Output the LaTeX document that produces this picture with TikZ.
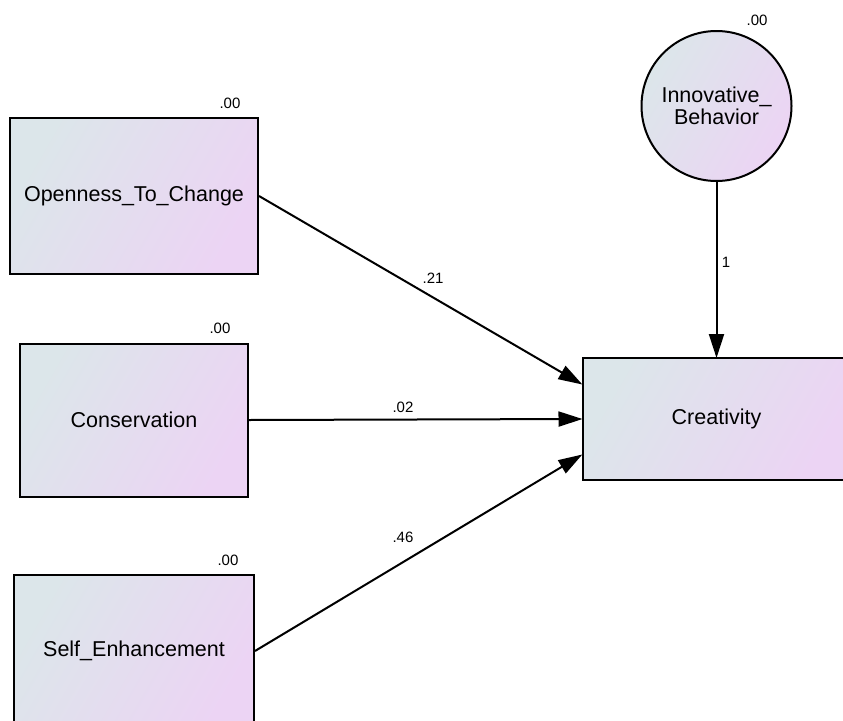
\documentclass[tikz,border=0pt]{standalone}
\usepackage{fontspec}
\setmainfont{Liberation Sans}
\usetikzlibrary{arrows.meta}
\definecolor{gA}{RGB}{220,230,234}
\definecolor{gB}{RGB}{236,212,244}
\tikzset{
  varbox/.style={draw=black, line width=2pt, left color=gA, right color=gB, shading angle=60,
     inner sep=0pt, font=\fontsize{21.5}{24}\selectfont},
  latent/.style={draw=black, line width=2pt, circle, left color=gA, right color=gB, shading angle=60,
     minimum size=150pt, inner sep=0pt, align=center, font=\fontsize{21.5}{22}\selectfont},
  small/.style={font=\fontsize{15}{18}\selectfont, inner sep=0pt},
  path/.style={line width=2pt, -{Triangle[length=24pt,width=15pt]}, shorten >=-1pt}
}
\begin{document}
\begin{tikzpicture}[x=1pt,y=-1pt]
\useasboundingbox (0,0) rectangle (843,720);
\clip (0,0) rectangle (843,720);
\node[varbox, minimum width=248pt, minimum height=156pt] (open) at (134,196) {Openness\_To\_Change};
\node[varbox, minimum width=228pt, minimum height=153pt] (cons) at (134,420) {Conservation};
\node[varbox, minimum width=240pt, minimum height=152pt] (self) at (134,651) {Self\_Enhancement};
\node[varbox, minimum width=268pt, minimum height=122pt] (crea) at (716.5,419) {Creativity};
\node[latent] (innov) at (716.5,106) {Innovative\_\\Behavior};
\node[small] (l1) at (230,103) {.00};
\node[small] (l2) at (220,328) {.00};
\node[small] (l3) at (228,560) {.00};
\node[small] (l4) at (757,20) {.00};
\draw[path] (open.east) -- ([yshift=35pt]crea.west);
\draw[path] (cons.east) -- (crea.west);
\draw[path] (self.east) -- ([yshift=-36pt]crea.west);
\draw[path] (innov.south) -- (crea.north);
\node[small] (p1) at (433,278) {.21};
\node[small] (p2) at (403,407) {.02};
\node[small] (p3) at (403,537) {.46};
\node[small] (p4) at (726,262) {1};
\end{tikzpicture}
\end{document}
